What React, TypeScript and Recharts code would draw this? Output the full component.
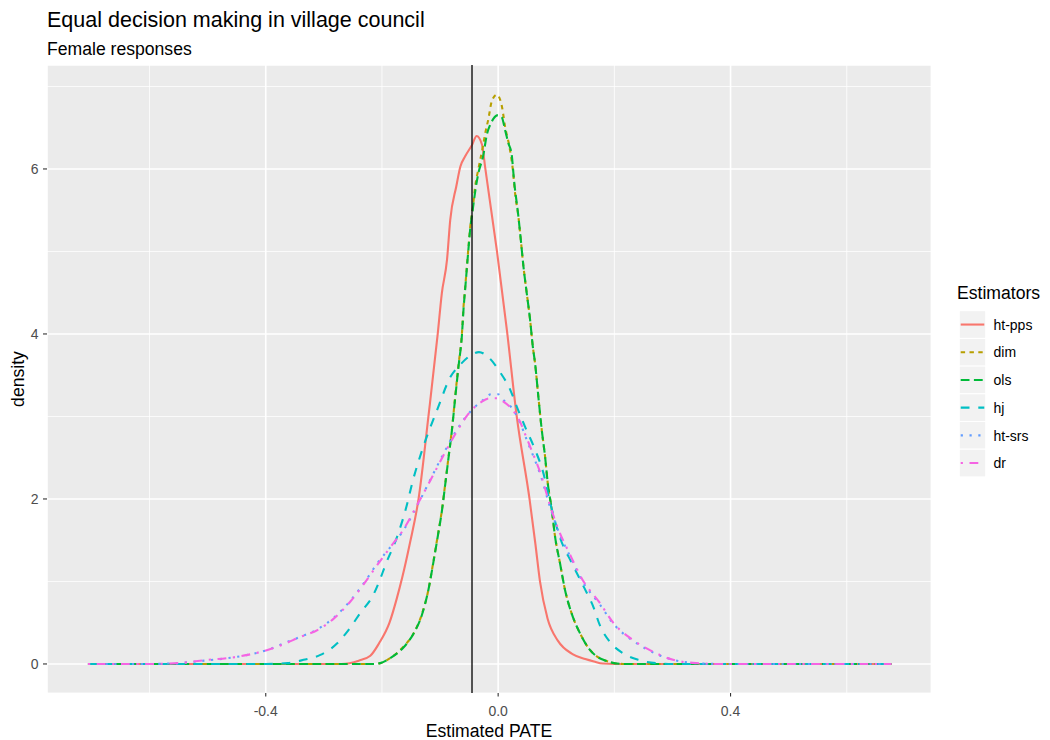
import React from 'react';
import { LineChart, Line, XAxis, YAxis, CartesianGrid, ReferenceLine } from 'recharts';

const chartTitle = 'Equal decision making in village council';
const chartSubtitle = 'Female responses';
const xTitle = 'Estimated PATE';
const yTitle = 'density';
const legendTitle = 'Estimators';

const seriesNames = ['ht-pps', 'dim', 'ols', 'hj', 'ht-srs', 'dr'];
const seriesColors = ['#F8766D', '#B79F00', '#00BA38', '#00BFC4', '#619CFF', '#F564E3'];
const seriesDash = ['', '4.4 4.4', '8.8 4.4', '8.8 8.8', '2.2 6.6', '2.2 6.6 8.8 6.6'];

const xMajorTicks = [-0.4, 0, 0.4];
const xAllTicks = [-0.6, -0.4, -0.2, 0, 0.2, 0.4, 0.6];
const yMajorTicks = [0, 2, 4, 6];
const yAllTicks = [0, 1, 2, 3, 4, 5, 6, 7];
const xDomain = [-0.7765, 0.745];
const yDomain = [-0.352, 7.26];
const pateLine = -0.045;

// ht-pps
const htPpsX = [-0.706, -0.27, -0.24, -0.22, -0.205, -0.187, -0.175, -0.165, -0.152, -0.137, -0.12, -0.104, -0.097, -0.088, -0.0825, -0.072, -0.065, -0.057, -0.045, -0.037, -0.028, -0.022, -0.012, -0.002, 0.015, 0.032, 0.054, 0.064, 0.072, 0.085, 0.103, 0.128, 0.15, 0.165, 0.18, 0.20, 0.677];
const htPpsY = [0, 0, 0.04, 0.1, 0.25, 0.5, 0.78, 1.05, 1.46, 2.0, 3.0, 4.0, 4.49, 4.9, 5.38, 5.79, 6.03, 6.15, 6.29, 6.4, 6.3, 6.0, 5.5, 5.0, 4.05, 3.0, 2.0, 1.46, 1.0, 0.55, 0.28, 0.12, 0.06, 0.03, 0.005, 0, 0];

// dim
const dimX = [-0.706, -0.215, -0.203, -0.186, -0.163, -0.1455, -0.131, -0.12, -0.112, -0.1043, -0.0967, -0.091, -0.0854, -0.0796, -0.074, -0.068, -0.0624, -0.0596, -0.0567, -0.0538, -0.051, -0.048, -0.0435, -0.0395, -0.034, -0.0263, -0.0223, -0.0167, -0.011, -0.0022, 0.0064, 0.012, 0.0194, 0.0253, 0.0292, 0.0349, 0.039, 0.0435, 0.0493, 0.055, 0.0596, 0.0636, 0.0692, 0.075, 0.0808, 0.0854, 0.0923, 0.098, 0.1065, 0.115, 0.1266, 0.141, 0.158, 0.181, 0.215, 0.677];
const dimY = [0, 0, 0.01, 0.07, 0.21, 0.37, 0.61, 0.9, 1.22, 1.54, 1.87, 2.19, 2.51, 2.84, 3.24, 3.64, 4.0, 4.33, 4.57, 4.82, 5.06, 5.3, 5.54, 5.79, 6.0, 6.27, 6.43, 6.61, 6.82, 6.9, 6.76, 6.51, 6.27, 5.99, 5.7, 5.42, 5.14, 4.82, 4.49, 4.17, 3.85, 3.64, 3.24, 2.84, 2.51, 2.19, 1.87, 1.54, 1.22, 0.9, 0.61, 0.37, 0.17, 0.05, 0, 0];

// ols
const olsX = [-0.706, -0.215, -0.203, -0.186, -0.163, -0.1455, -0.131, -0.12, -0.112, -0.1043, -0.0967, -0.091, -0.0854, -0.0796, -0.074, -0.068, -0.0624, -0.0596, -0.0567, -0.0538, -0.051, -0.048, -0.0435, -0.039, -0.034, -0.026, -0.019, -0.014, -0.008, -0.002, 0.006, 0.012, 0.0177, 0.023, 0.0275, 0.0349, 0.039, 0.0435, 0.0493, 0.055, 0.0596, 0.0636, 0.0692, 0.075, 0.0808, 0.0854, 0.0923, 0.098, 0.1065, 0.115, 0.1266, 0.141, 0.158, 0.181, 0.215, 0.677];
const olsY = [0, 0, 0.01, 0.07, 0.2, 0.37, 0.6, 0.9, 1.21, 1.53, 1.86, 2.18, 2.5, 2.83, 3.22, 3.62, 3.98, 4.3, 4.55, 4.8, 5.04, 5.28, 5.52, 5.75, 5.95, 6.15, 6.43, 6.53, 6.61, 6.65, 6.63, 6.47, 6.31, 6.19, 5.85, 5.42, 5.14, 4.82, 4.49, 4.17, 3.85, 3.64, 3.24, 2.84, 2.51, 2.19, 1.87, 1.54, 1.22, 0.9, 0.61, 0.37, 0.17, 0.05, 0, 0];

// hj
const hjX = [-0.706, -0.40, -0.362, -0.335, -0.306, -0.277, -0.260, -0.237, -0.214, -0.203, -0.194, -0.174, -0.157, -0.148, -0.129, -0.105, -0.082, -0.065, -0.045, -0.033, -0.017, 0.003, 0.021, 0.032, 0.046, 0.064, 0.078, 0.089, 0.106, 0.127, 0.147, 0.164, 0.175, 0.192, 0.215, 0.241, 0.272, 0.30, 0.677];
const hjY = [0, 0, 0.01, 0.05, 0.11, 0.25, 0.39, 0.62, 0.85, 1.03, 1.2, 1.54, 1.93, 2.19, 2.63, 3.08, 3.48, 3.63, 3.75, 3.78, 3.72, 3.54, 3.32, 3.12, 2.88, 2.59, 2.31, 1.97, 1.54, 1.22, 0.94, 0.69, 0.47, 0.27, 0.13, 0.05, 0.01, 0, 0];

// ht-srs
const htSrsX = [-0.706, -0.60, -0.552, -0.506, -0.466, -0.431, -0.397, -0.369, -0.340, -0.311, -0.283, -0.254, -0.231, -0.208, -0.185, -0.163, -0.140, -0.117, -0.094, -0.071, -0.045, -0.026, -0.012, 0.0, 0.009, 0.026, 0.038, 0.049, 0.061, 0.072, 0.089, 0.101, 0.124, 0.147, 0.175, 0.198, 0.232, 0.258, 0.301, 0.341, 0.38, 0.677];
const htSrsY = [0, 0, 0.01, 0.04, 0.07, 0.11, 0.17, 0.25, 0.33, 0.42, 0.56, 0.77, 0.98, 1.22, 1.42, 1.62, 1.91, 2.23, 2.55, 2.84, 3.08, 3.2, 3.27, 3.27, 3.2, 3.08, 2.92, 2.72, 2.51, 2.31, 1.91, 1.66, 1.30, 0.98, 0.72, 0.49, 0.28, 0.17, 0.05, 0.01, 0, 0];

// dr
const drX = [-0.706, -0.60, -0.55, -0.50, -0.466, -0.431, -0.397, -0.369, -0.340, -0.311, -0.283, -0.254, -0.231, -0.208, -0.185, -0.163, -0.140, -0.117, -0.094, -0.071, -0.048, -0.03, -0.015, -0.002, 0.009, 0.026, 0.038, 0.049, 0.061, 0.072, 0.089, 0.101, 0.124, 0.147, 0.175, 0.198, 0.232, 0.258, 0.301, 0.341, 0.38, 0.677];
const drY = [0, 0, 0.01, 0.05, 0.07, 0.11, 0.17, 0.24, 0.33, 0.41, 0.55, 0.76, 0.97, 1.2, 1.42, 1.63, 1.92, 2.22, 2.53, 2.82, 3.06, 3.17, 3.22, 3.22, 3.18, 3.07, 2.93, 2.74, 2.53, 2.33, 1.93, 1.68, 1.32, 1.0, 0.74, 0.5, 0.29, 0.18, 0.05, 0.01, 0, 0];

const seriesX = [htPpsX, dimX, olsX, hjX, htSrsX, drX];
const seriesY = [htPpsY, dimY, olsY, hjY, htSrsY, drY];

const toPoints = (xs: number[], ys: number[]) => xs.map((x, i) => ({ x, y: ys[i] }));

const FONT = '"Liberation Sans", Arial, Helvetica, sans-serif';

const isIn = (arr: number[], v: number) => arr.some((t) => Math.abs(t - v) < 1e-9);

const XTick = (props: any) => {
  const { x, y, payload } = props;
  const v = payload.value as number;
  if (!isIn(xMajorTicks, v)) return <g />;
  return (
    <g>
      <line x1={x} x2={x} y1={y} y2={y + 3.5} stroke="#333333" strokeWidth={1.1} />
      <text x={x} y={y + 23} textAnchor="middle" fontSize={14} fill="#4D4D4D" fontFamily={FONT}>
        {v.toFixed(1)}
      </text>
    </g>
  );
};

const YTick = (props: any) => {
  const { x, y, payload } = props;
  const v = payload.value as number;
  if (!isIn(yMajorTicks, v)) return <g />;
  return (
    <g>
      <line x1={x - 4} x2={x} y1={y} y2={y} stroke="#333333" strokeWidth={1.1} />
      <text x={x - 8.5} y={y} dy="0.36em" textAnchor="end" fontSize={14} fill="#4D4D4D" fontFamily={FONT}>
        {v}
      </text>
    </g>
  );
};

const HGrid = (p: any) => (
  <line key={p.key} x1={p.x1} x2={p.x2} y1={p.y1} y2={p.y2} stroke="#FFFFFF" strokeWidth={p.index % 2 === 0 ? 1.6 : 0.8} />
);
const VGrid = (p: any) => (
  <line key={p.key} x1={p.x1} x2={p.x2} y1={p.y1} y2={p.y2} stroke="#FFFFFF" strokeWidth={p.index % 2 === 1 ? 1.6 : 0.8} />
);

const legendTop = 310.7;
const legendKeyH = 27.7;

export default function App() {
  return (
    <div style={{ position: 'absolute', left: 0, top: 0, width: 1050, height: 740, background: '#FFFFFF' }}>
      <LineChart width={1050} height={740} margin={{ top: 65, right: 119, bottom: 0, left: 0 }}>
        <CartesianGrid fill="#EBEBEB" horizontal={HGrid} vertical={VGrid} />
        <XAxis
          type="number"
          dataKey="x"
          domain={xDomain}
          ticks={xAllTicks}
          interval={0}
          height={47}
          axisLine={false}
          tickLine={false}
          tickSize={0}
          tickMargin={0}
          tick={<XTick />}
          allowDataOverflow
        />
        <YAxis
          type="number"
          dataKey="y"
          domain={yDomain}
          ticks={yAllTicks}
          interval={0}
          width={47}
          axisLine={false}
          tickLine={false}
          tickSize={0}
          tickMargin={0}
          tick={<YTick />}
          allowDataOverflow
        />
        {seriesNames.map((name, i) => (
          <Line
            key={name}
            name={name}
            data={toPoints(seriesX[i], seriesY[i])}
            dataKey="y"
            type="monotone"
            stroke={seriesColors[i]}
            strokeWidth={2.1}
            strokeDasharray={seriesDash[i] || undefined}
            strokeLinecap="butt"
            dot={false}
            activeDot={false}
            isAnimationActive={false}
          />
        ))}
        <ReferenceLine x={pateLine} stroke="#111111" strokeWidth={1.4} ifOverflow="extendDomain" />
      </LineChart>
      <svg width={1050} height={740} style={{ position: 'absolute', left: 0, top: 0, pointerEvents: 'none' }}>
        <text x={47} y={27} fontSize={21.5} fill="#000" fontFamily={FONT}>{chartTitle}</text>
        <text x={47} y={54.5} fontSize={17.6} fill="#000" fontFamily={FONT}>{chartSubtitle}</text>
        <text x={489} y={737} fontSize={17.6} fill="#000" textAnchor="middle" fontFamily={FONT}>{xTitle}</text>
        <text x={24} y={379} fontSize={17.6} fill="#000" textAnchor="middle" fontFamily={FONT} transform="rotate(-90, 24, 379)">{yTitle}</text>
        <text x={957} y={299.3} fontSize={17.6} fill="#000" fontFamily={FONT}>{legendTitle}</text>
        {seriesNames.map((name, i) => {
          const top = legendTop + i * legendKeyH;
          const cy = top + legendKeyH / 2;
          return (
            <g key={name}>
              <rect x={959.3} y={top} width={26.4} height={legendKeyH} fill="#F2F2F2" stroke="#FFFFFF" strokeWidth={1} />
              <line x1={960.7} x2={984.3} y1={cy} y2={cy} stroke={seriesColors[i]} strokeWidth={2.1} strokeDasharray={seriesDash[i] || undefined} />
              <text x={993.5} y={cy + 5.2} fontSize={14} fill="#000" fontFamily={FONT}>{name}</text>
            </g>
          );
        })}
      </svg>
    </div>
  );
}
